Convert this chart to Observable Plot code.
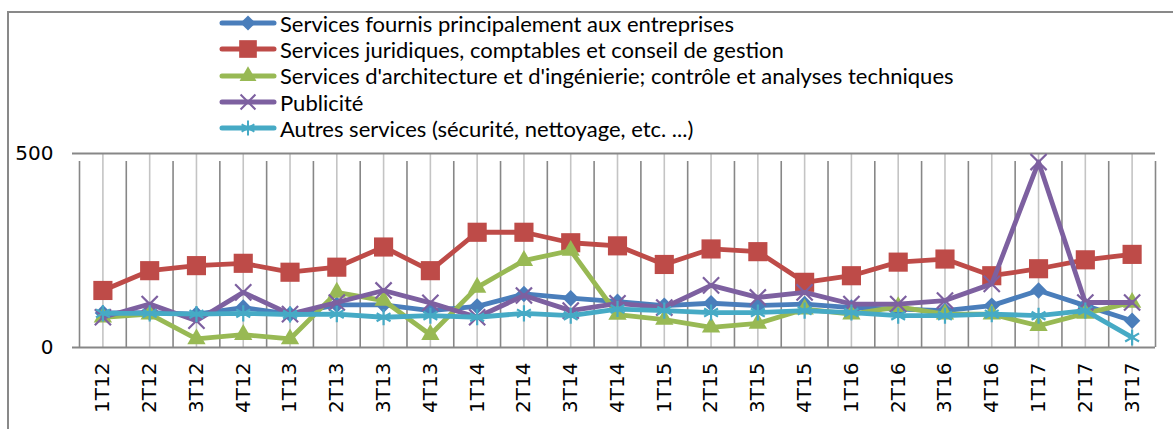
<!DOCTYPE html>
<html>
<head>
<meta charset="utf-8">
<script src="https://cdn.jsdelivr.net/npm/d3@7"></script>
<script src="https://cdn.jsdelivr.net/npm/@observablehq/plot@0.6"></script>
<style>
  html, body { margin: 0; padding: 0; background: #fff; }
  #page { position: relative; width: 1173px; height: 429px; overflow: hidden; }
  #frame { position: absolute; left: 7px; top: 11px; width: 1200px; height: 500px;
           border-top: 2px solid #898989; border-left: 2px solid #898989; }
  #legend { position: absolute; left: 219px; top: 10px; font-family: Lato, "Liberation Sans", sans-serif; font-size: 22px; color: #000; }
  .row { display: flex; align-items: center; height: 26.3px; }
  .row span { margin-left: 3px; white-space: nowrap; }
  #chart { position: absolute; left: 0; top: 140px; }
</style>
</head>
<body>
<div id="page">
  <div id="frame"></div>
  <div id="legend"></div>
  <div id="chart"></div>
</div>
<script>
const categories = ["1T12","2T12","3T12","4T12","1T13","2T13","3T13","4T13","1T14","2T14","3T14","4T14","1T15","2T15","3T15","4T15","1T16","2T16","3T16","4T16","1T17","2T17","3T17"];

const seriesNames = [
  "Services fournis principalement aux entreprises",
  "Services juridiques, comptables et conseil de gestion",
  "Services d'architecture et d'ingénierie; contrôle et analyses techniques",
  "Publicité",
  "Autres services (sécurité, nettoyage, etc. ...)"
];

const entreprises  = [89, 90, 86, 103, 86, 110, 110, 95, 106, 138, 127, 118, 108, 114, 108, 112, 103, 99, 95, 108, 147, 108, 69];
const juridiques   = [147, 198, 211, 217, 194, 207, 259, 198, 297, 297, 270, 262, 214, 254, 247, 168, 185, 220, 228, 185, 203, 226, 240];
const architecture = [78, 86, 22, 33, 22, 142, 121, 33, 155, 224, 250, 85, 72, 52, 62, 99, 86, 105, 86, 86, 56, 88, 116];
const publicite    = [78, 112, 69, 142, 86, 116, 147, 115, 78, 134, 95, 114, 103, 160, 129, 142, 112, 112, 121, 164, 478, 116, 116];
const autres       = [88, 88, 86, 88, 85, 86, 78, 82, 78, 88, 82, 99, 95, 90, 90, 95, 90, 82, 82, 86, 82, 95, 26];

const yTicks = [0, 500];

const colors  = ["#4A7EBB", "#BE4B48", "#98B954", "#7D60A0", "#46AAC5"];
const symbols = ["diamond2", "square", "triangle", "times", "asterisk"];
const symbolR = [7.4, 10.8, 6.8, 7.4, 7.6];
const filled  = [true, true, true, false, false];
const values  = [entreprises, juridiques, architecture, publicite, autres];

const rows = [];
values.forEach((arr, s) => arr.forEach((v, i) => rows.push({series: seriesNames[s], s, i, cat: categories[i], value: v})));

const idx = categories.map((_, i) => i);
const bounds = d3.range(categories.length + 1).map(i => i - 0.5);

const marks = [
  Plot.ruleX(idx, {x: d => d, y1: 0, y2: 500, stroke: "#c4c4c4", strokeWidth: 1.6}),
  Plot.ruleX(bounds, {x: d => d, y1: 0, y2: 500, stroke: "#878787", strokeWidth: 1.6, insetBottom: -8}),
  Plot.ruleY(yTicks, {y: d => d, stroke: "#878787", strokeWidth: 2}),
  Plot.axisY({ticks: yTicks, label: null, tickSize: 7, tickPadding: 19, stroke: "#878787", strokeWidth: 2, fontSize: 20, fill: "#000"}),
  Plot.axisX({ticks: idx, label: null, tickFormat: i => categories[i], tickRotate: -90, tickSize: 0, tickPadding: 15, fontSize: 20, fill: "#000"})
];

values.forEach((arr, s) => {
  const data = rows.filter(r => r.s === s);
  marks.push(Plot.line(data, {x: "i", y: "value", stroke: colors[s], strokeWidth: 4.8, strokeLinejoin: "round", strokeLinecap: "round"}));
  marks.push(Plot.dot(data, filled[s]
    ? {x: "i", y: "value", symbol: () => symbols[s], r: symbolR[s], fill: colors[s], stroke: "none"}
    : {x: "i", y: "value", symbol: () => symbols[s], r: symbolR[s], stroke: colors[s], strokeWidth: 2.2, fill: "none"}));
});

const chart = Plot.plot({
  width: 1173,
  height: 289,
  marginLeft: 79,
  marginRight: 18,
  marginTop: 13,
  marginBottom: 82,
  x: {type: "linear", domain: [-0.5, categories.length - 0.5], axis: null, label: null},
  y: {type: "linear", domain: [0, 500], axis: null, label: null},
  symbol: {type: "identity"},
  style: {fontFamily: "'DejaVu Sans', sans-serif", fontSize: "20px", color: "#000", background: "transparent", overflow: "visible"},
  marks
});
document.getElementById("chart").appendChild(chart);

// Legend (HTML, above the chart)
const symMap = {diamond2: d3.symbolDiamond2, square: d3.symbolSquare, triangle: d3.symbolTriangle, times: d3.symbolTimes, asterisk: d3.symbolAsterisk};
const legend = d3.select("#legend");
seriesNames.forEach((name, s) => {
  const row = legend.append("div").attr("class", "row");
  const svg = row.append("svg").attr("width", 58).attr("height", 26);
  svg.append("line").attr("x1", 3).attr("x2", 55).attr("y1", 13).attr("y2", 13)
    .attr("stroke", colors[s]).attr("stroke-width", 5).attr("stroke-linecap", "round");
  const size = Math.PI * symbolR[s] * symbolR[s] * 0.85;
  svg.append("path").attr("transform", "translate(29,13)")
    .attr("d", d3.symbol(symMap[symbols[s]], size)())
    .attr("fill", filled[s] ? colors[s] : "none")
    .attr("stroke", filled[s] ? "none" : colors[s])
    .attr("stroke-width", 2);
  row.append("span").text(name);
});
</script>
</body>
</html>
